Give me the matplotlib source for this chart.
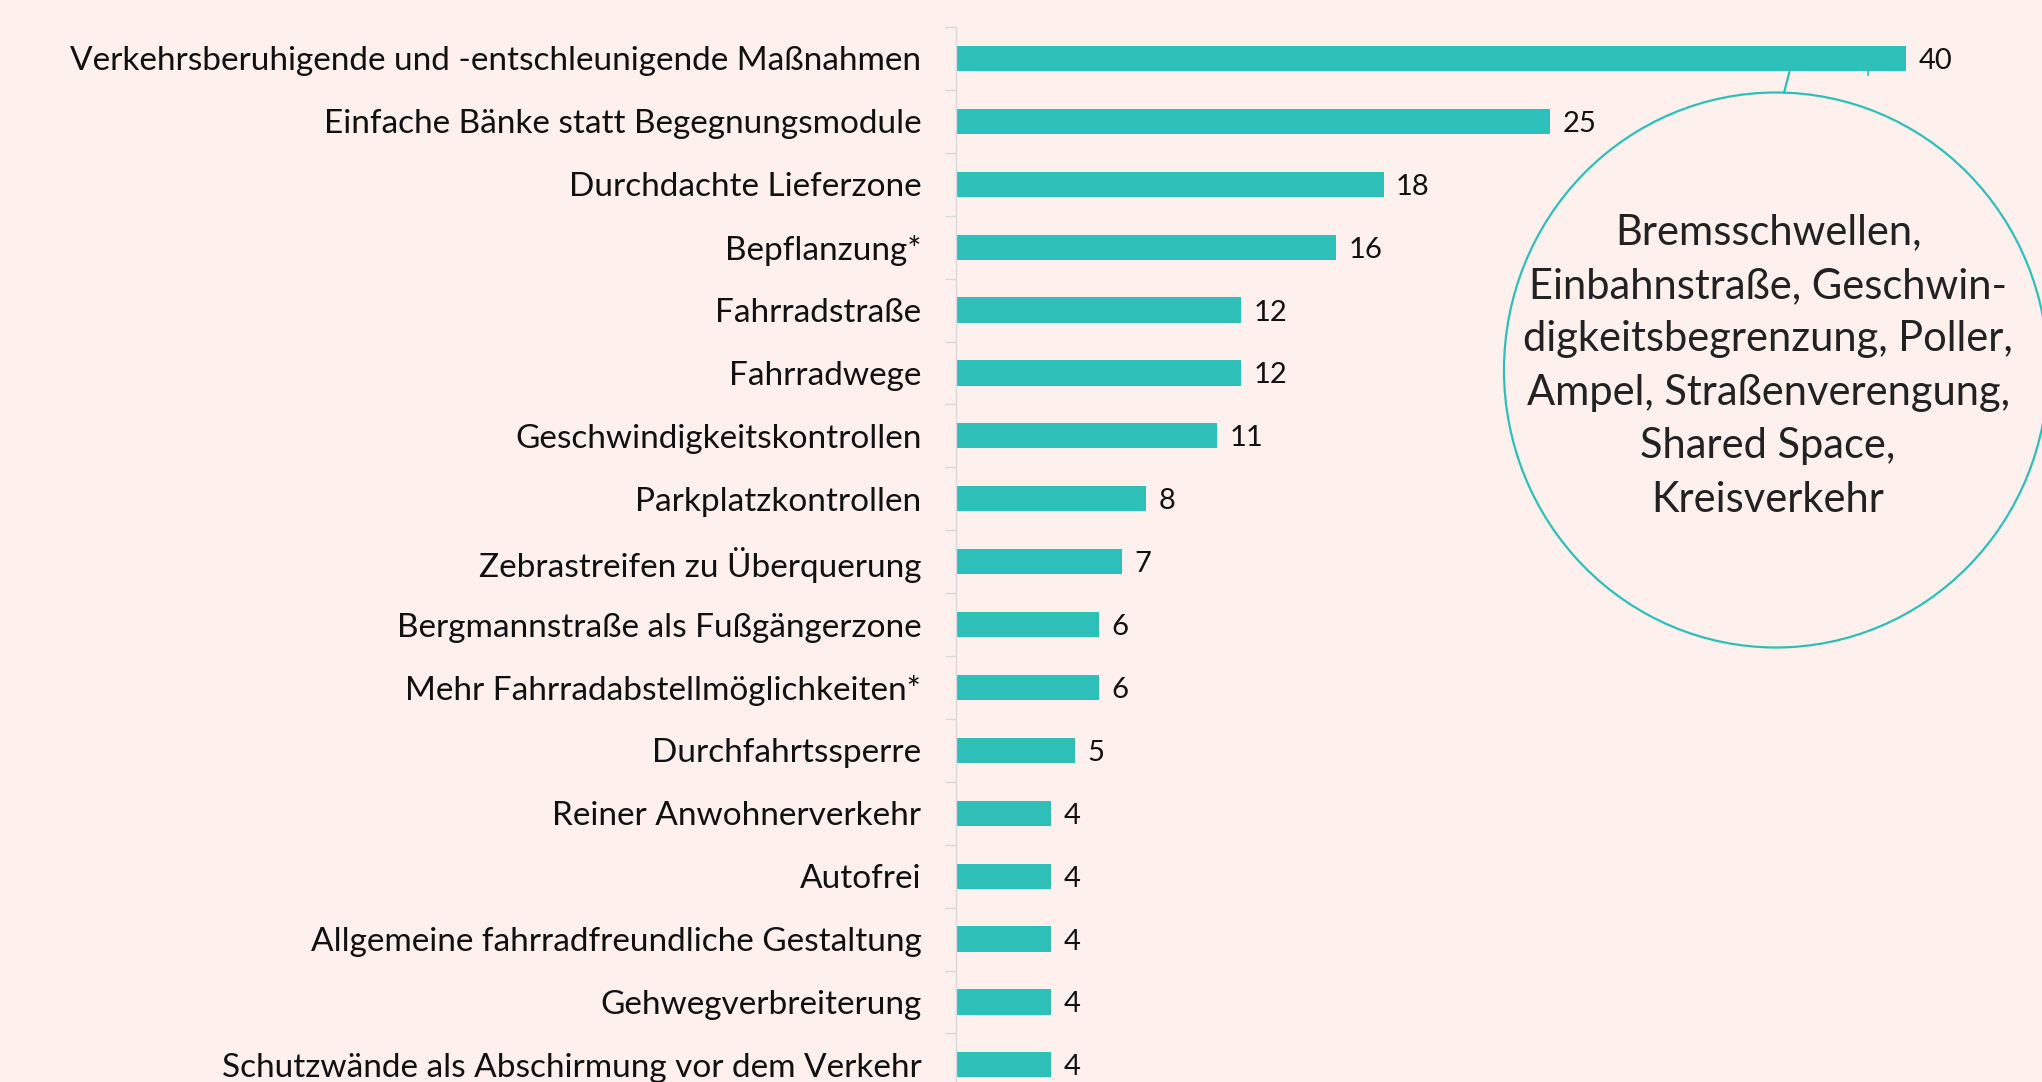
import matplotlib.pyplot as plt
from matplotlib.patches import Ellipse

categories = [
    "Verkehrsberuhigende und -entschleunigende Maßnahmen",
    "Einfache Bänke statt Begegnungsmodule",
    "Durchdachte Lieferzone",
    "Bepflanzung*",
    "Fahrradstraße",
    "Fahrradwege",
    "Geschwindigkeitskontrollen",
    "Parkplatzkontrollen",
    "Zebrastreifen zu Überquerung",
    "Bergmannstraße als Fußgängerzone",
    "Mehr Fahrradabstellmöglichkeiten*",
    "Durchfahrtssperre",
    "Reiner Anwohnerverkehr",
    "Autofrei",
    "Allgemeine fahrradfreundliche Gestaltung",
    "Gehwegverbreiterung",
    "Schutzwände als Abschirmung vor dem Verkehr",
]
values = [40, 25, 18, 16, 12, 12, 11, 8, 7, 6, 6, 5, 4, 4, 4, 4, 4]

note = ("Bremsschwellen,\nEinbahnstraße, Geschwin-\ndigkeitsbegrenzung, Poller,\n"
        "Ampel, Straßenverengung,\nShared Space,\nKreisverkehr")

bg = "#fdf0ed"
teal = "#2ebfb9"
grey = "#d9d9d9"

plt.rcParams['font.family'] = ['Lato', 'DejaVu Sans']

W, H = 2042, 1082
fig = plt.figure(figsize=(W / 100, H / 100), dpi=100, facecolor=bg)

# axes: left at x=956 px, top at y=27 px, category pitch ~62.9 px
left, top = 956, 27
pitch = 62.9
unit = 23.75
n = len(categories)
bottom_px = top + n * pitch
xmax = 45
ax = fig.add_axes([left / W, (H - bottom_px) / H, xmax * unit / W, n * pitch / H])
ax.set_facecolor(bg)

y = list(range(n))
ax.barh(y, values, height=0.4, color=teal)
for yi, v in zip(y, values):
    ax.annotate(str(v), xy=(v, yi), xytext=(9, 0), textcoords="offset points",
                va="center_baseline", ha="left", fontsize=21, color="#111111")

ax.set_ylim(n - 0.5, -0.5)
ax.set_xlim(0, xmax)
ax.set_yticks(y)
ax.set_yticklabels(categories, fontsize=24, color="#111111")
ax.set_yticks([i - 0.5 for i in range(n + 1)], minor=True)
ax.tick_params(axis="y", which="major", length=0, pad=25)
ax.tick_params(axis="y", which="minor", length=8, color=grey, width=1)
ax.set_xticks([])
for s in ["top", "right", "bottom"]:
    ax.spines[s].set_visible(False)
ax.spines["left"].set_color(grey)
ax.spines["left"].set_linewidth(1)

# callout circle
cx, cy = 1776, 370
fig.patches.append(Ellipse((cx / W, 1 - cy / H), 544 / W, 555 / H,
                           transform=fig.transFigure, fill=False,
                           edgecolor=teal, linewidth=1.6))
fig.text(1768 / W, 1 - 366 / H, note, ha="center", va="center",
         fontsize=30, color="#222222", linespacing=1.5)
ax.annotate("", xy=(35.1, 0.2), xycoords="data",
            xytext=(1784 / W, 1 - 93 / H), textcoords="figure fraction",
            arrowprops=dict(arrowstyle="-", color=teal, lw=1.6,
                            shrinkA=0, shrinkB=0))
# small pointer stub under the top bar
ax.plot([38.4, 38.4], [0.2, 0.28], color=teal, lw=1.2, solid_capstyle="butt")

fig.savefig("out.png", dpi=100, facecolor=bg)
